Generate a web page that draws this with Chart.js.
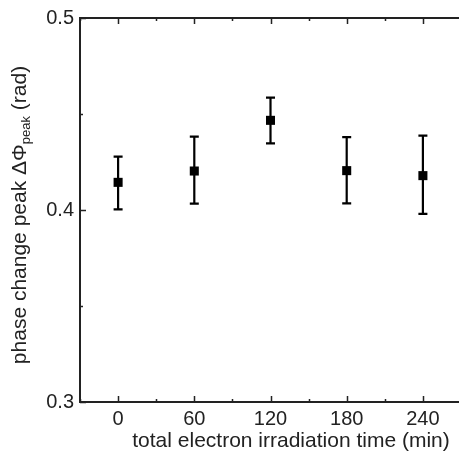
<!DOCTYPE html>
<html>
<head>
<meta charset="utf-8">
<script src="https://cdn.jsdelivr.net/npm/chart.js@4/dist/chart.umd.min.js"></script>
<style>
  html, body { margin: 0; padding: 0; background: #fff; overflow: hidden; }
  #wrap { width: 470px; height: 459px; }
</style>
</head>
<body>
<div id="wrap"><canvas id="c" width="470" height="459"></canvas></div>
<script>
// ---- data ----
const irradiationTimes = [0, 60, 120, 180, 240];
const peakPhase = [0.4144, 0.4203, 0.4467, 0.4205, 0.4179];
const errUpper = [0.4278, 0.4382, 0.4585, 0.4380, 0.4387];
const errLower = [0.4003, 0.4033, 0.4347, 0.4035, 0.3980];
const xTickLabels = ['0', '60', '120', '180', '240'];
const yTickLabels = ['0.3', '0.4', '0.5'];
const xTitle = 'total electron irradiation time (min)';
const yTitleMain = 'phase change peak ΔΦ';
const yTitleSub = 'peak';
const yTitleEnd = ' (rad)';

const FONT = '"Liberation Sans", Arial, sans-serif';
const AXIS_COLOR = '#222';

const points = irradiationTimes.map((t, i) => ({ x: t, y: peakPhase[i] }));

const xLabelFor = v => {
  const s = String(Math.round(v));
  return xTickLabels.includes(s) ? s : '';
};
const yLabelFor = v => {
  const s = v.toFixed(1);
  return (Math.abs(v * 10 - Math.round(v * 10)) < 1e-6 && yTickLabels.includes(s)) ? s : '';
};

const decorPlugin = {
  id: 'decor',
  beforeDatasetsDraw(chart) {
    const { ctx, scales: { x, y } } = chart;
    ctx.save();
    ctx.strokeStyle = '#000';
    ctx.lineWidth = 2.2;
    const cap = 4.5;
    irradiationTimes.forEach((t, i) => {
      const px = x.getPixelForValue(t);
      const top = y.getPixelForValue(errUpper[i]);
      const bot = y.getPixelForValue(errLower[i]);
      ctx.beginPath();
      ctx.moveTo(px, top); ctx.lineTo(px, bot);
      ctx.moveTo(px - cap, top); ctx.lineTo(px + cap, top);
      ctx.moveTo(px - cap, bot); ctx.lineTo(px + cap, bot);
      ctx.stroke();
    });
    ctx.restore();
  },
  afterDraw(chart) {
    const { ctx, chartArea: a, scales: { x, y } } = chart;
    ctx.save();
    ctx.strokeStyle = AXIS_COLOR;
    ctx.lineWidth = 2;
    // top frame line
    ctx.beginPath();
    ctx.moveTo(a.left - 1, a.top);
    ctx.lineTo(chart.width, a.top);
    ctx.stroke();
    // inward ticks
    ctx.lineWidth = 1.5;
    ctx.beginPath();
    x.ticks.forEach(t => {
      const px = Math.round(x.getPixelForValue(t.value)) + 0.5;
      const len = xLabelFor(t.value) ? 6 : 3;
      ctx.moveTo(px, a.bottom); ctx.lineTo(px, a.bottom - len);
      ctx.moveTo(px, a.top); ctx.lineTo(px, a.top + len);
    });
    y.ticks.forEach(t => {
      const py = Math.round(y.getPixelForValue(t.value)) + 0.5;
      const len = yLabelFor(t.value) ? 6 : 3;
      ctx.moveTo(a.left, py); ctx.lineTo(a.left + len, py);
    });
    ctx.stroke();

    // axis titles
    ctx.fillStyle = '#222';
    ctx.textBaseline = 'middle';
    ctx.textAlign = 'center';
    ctx.font = '21px ' + FONT;
    ctx.fillText(xTitle, 291, 441);

    // y title with subscript, rotated
    ctx.translate(20, 215);
    ctx.rotate(-Math.PI / 2);
    const mainFont = '21px ' + FONT;
    const subFont = '13px ' + FONT;
    ctx.font = mainFont;
    const w1 = ctx.measureText(yTitleMain).width;
    const w3 = ctx.measureText(yTitleEnd).width;
    ctx.font = subFont;
    const w2 = ctx.measureText(yTitleSub).width;
    const total = w1 + w2 + w3;
    let cx = -total / 2;
    ctx.textAlign = 'left';
    ctx.font = mainFont;
    ctx.fillText(yTitleMain, cx, 0);
    cx += w1;
    ctx.font = subFont;
    ctx.fillText(yTitleSub, cx, 6);
    cx += w2;
    ctx.font = mainFont;
    ctx.fillText(yTitleEnd, cx, 0);
    ctx.restore();
  }
};

new Chart(document.getElementById('c'), {
  type: 'scatter',
  data: {
    datasets: [{
      data: points,
      pointStyle: 'rect',
      pointRadius: 6.4,
      pointHoverRadius: 6.4,
      backgroundColor: '#000',
      borderColor: '#000',
      borderWidth: 0
    }]
  },
  options: {
    responsive: false,
    animation: false,
    events: [],
    layout: { padding: { top: 16, right: 9, left: 0, bottom: 0 } },
    plugins: { legend: { display: false }, tooltip: { enabled: false } },
    scales: {
      x: {
        type: 'linear',
        min: -30, max: 270,
        afterFit: s => { s.height = 57; },
        border: { display: true, color: AXIS_COLOR, width: 2 },
        grid: { display: false, drawTicks: false },
        ticks: {
          stepSize: 30,
          autoSkip: false,
          maxRotation: 0,
          padding: 5,
          color: '#222',
          font: { family: FONT, size: 20 },
          callback: v => xLabelFor(v)
        }
      },
      y: {
        min: 0.3, max: 0.5,
        afterFit: s => { s.width = 80; },
        border: { display: true, color: AXIS_COLOR, width: 2 },
        grid: { display: false, drawTicks: false },
        ticks: {
          stepSize: 0.05,
          autoSkip: false,
          padding: 6,
          color: '#222',
          font: { family: FONT, size: 20 },
          callback: v => yLabelFor(v)
        }
      }
    }
  },
  plugins: [decorPlugin]
});
</script>
</body>
</html>
